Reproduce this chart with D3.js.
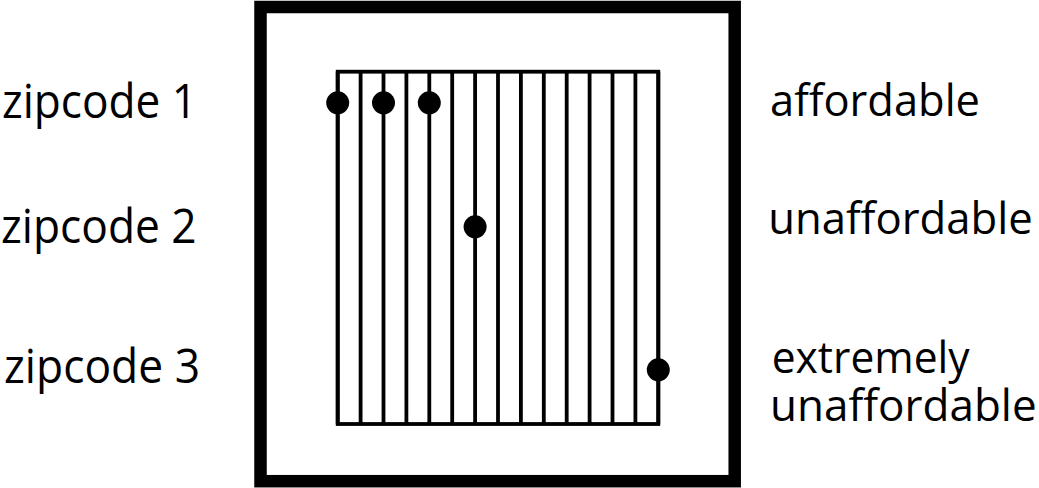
<!DOCTYPE html>
<html>
<head>
<meta charset="utf-8">
<script src="https://cdn.jsdelivr.net/npm/d3@7"></script>
<style>
  html, body { margin: 0; padding: 0; background: #fff; }
  svg { display: block; }
  text { font-family: "Open Sans", "Noto Sans", sans-serif; fill: #000; }
</style>
</head>
<body>
<svg id="chart" width="1039" height="488"></svg>
<script>
// ---- data ----
const categories = ["zipcode 1", "zipcode 2", "zipcode 3"];
const ratingLabels = [["affordable"], ["unaffordable"], ["extremely", "unaffordable"]];
const gridValues = [0, 1, 2, 3, 4, 5, 6, 7, 8, 9, 10, 11, 12, 13, 14];
const zip1Values = [0, 2, 4];
const zip2Values = [6];
const zip3Values = [14];

// ---- layout ----
const svg = d3.select("#chart");

const x = d3.scaleLinear().domain([0, 14]).range([337.7, 658.3]);
const y = d3.scaleOrdinal().domain(categories).range([102.8, 226.8, 369.8]);
const gridTop = 71.7, gridBottom = 424;

// outer frame
svg.append("rect")
  .attr("x", 260.5).attr("y", 7)
  .attr("width", 734.7 - 260.5).attr("height", 481.2 - 7)
  .attr("fill", "none").attr("stroke", "#000").attr("stroke-width", 12.5);

// inner grid frame
svg.append("rect")
  .attr("x", x(0)).attr("y", gridTop)
  .attr("width", x(14) - x(0)).attr("height", gridBottom - gridTop)
  .attr("fill", "none").attr("stroke", "#000").attr("stroke-width", 3.8);

// vertical lines
svg.append("g").selectAll("line").data(gridValues).join("line")
  .attr("x1", d => x(d)).attr("x2", d => x(d))
  .attr("y1", gridTop).attr("y2", gridBottom)
  .attr("stroke", "#000").attr("stroke-width", 3.8);

// dots
const series = [
  { cat: categories[0], values: zip1Values },
  { cat: categories[1], values: zip2Values },
  { cat: categories[2], values: zip3Values }
];
const pts = series.flatMap(s => s.values.map(v => ({ cat: s.cat, v })));
svg.append("g").selectAll("circle").data(pts).join("circle")
  .attr("cx", d => x(d.v)).attr("cy", d => y(d.cat))
  .attr("r", 11.5).attr("fill", "#000");

// left labels
const leftX = [2, 1, 4];
const leftLen = [195, 195.7, 196];
const leftDy = [15, 16, 13.5];
svg.append("g").selectAll("text").data(categories).join("text")
  .attr("x", (d, i) => leftX[i])
  .attr("y", (d, i) => y(d) + leftDy[i])
  .attr("font-size", 47)
  .attr("textLength", (d, i) => leftLen[i])
  .attr("lengthAdjust", "spacingAndGlyphs")
  .text(d => d);

// right labels
const rightLines = [
  { t: ratingLabels[0][0], x: 770, y: 115.5, len: 210 },
  { t: ratingLabels[1][0], x: 768.3, y: 233.5, len: 264.4 },
  { t: ratingLabels[2][0], x: 771.7, y: 372.5, len: 198 },
  { t: ratingLabels[2][1], x: 770, y: 421, len: 266.7 }
];
svg.append("g").selectAll("text").data(rightLines).join("text")
  .attr("x", d => d.x).attr("y", d => d.y)
  .attr("font-size", 44)
  .attr("textLength", d => d.len)
  .attr("lengthAdjust", "spacingAndGlyphs")
  .text(d => d.t);
</script>
</body>
</html>
